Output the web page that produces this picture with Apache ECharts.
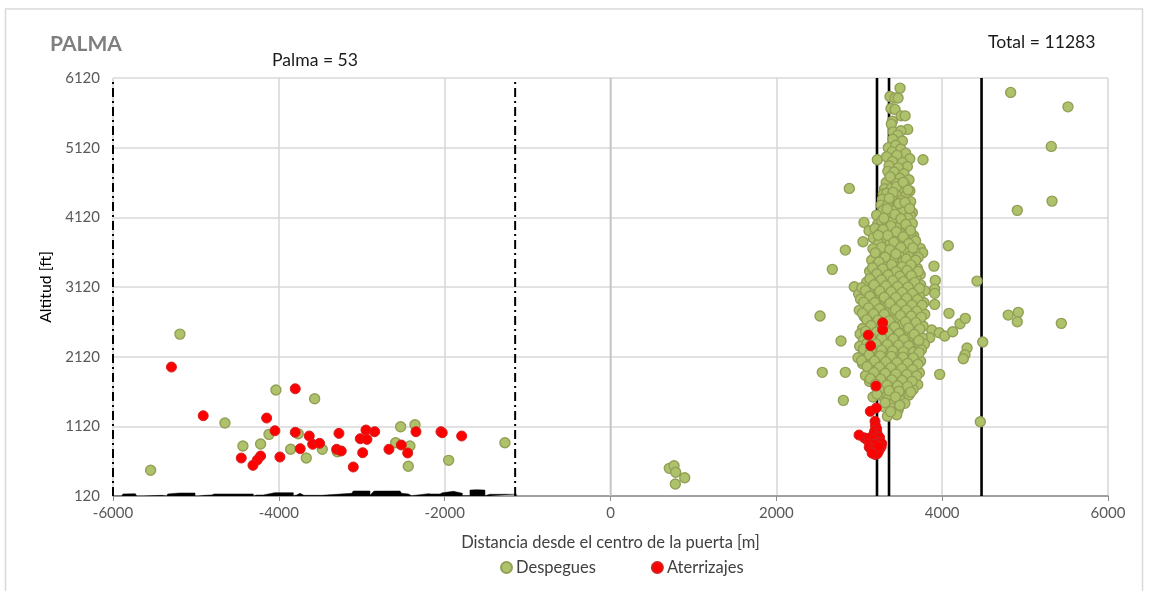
<!DOCTYPE html>
<html><head><meta charset="utf-8">
<style>html,body{margin:0;padding:0;background:#fff}#c{width:1151px;height:591px}</style>
<script src="https://cdn.jsdelivr.net/npm/echarts@6/dist/echarts.min.js"></script>
</head><body><div id="c"></div>
<script>
const chartTitle = 'PALMA';
const totalLabel = 'Total = 11283';
const palmaLabel = 'Palma = 53';
const xAxisName = 'Distancia desde el centro de la puerta [m]';
const yAxisName = 'Altitud [ft]';
const yTicks = [120,1120,2120,3120,4120,5120,6120];
const dashedLimits = [-6000,-1150];
const solidLimits = [3214,3359,4475];
const doorCentre = [0];

const departuresLeft = [[-5193,2444],[-5546,489],[-4035,1641],[-3568,1516],[-4650,1167],[-4433,837],[-4220,866],[-4119,1005],[-3766,1014],[-3858,790],[-3669,665],[-3476,790],[-3295,756],[-2531,1114],[-2358,1143],[-2591,885],[-2419,837],[-2439,546],[-1952,632],[-1273,885]];
const departuresCentre = [[709,517],[766,555],[786,460],[895,383],[782,292]];
const departuresOutliers = [[4826,5913],[5517,5706],[5316,5138],[5325,4353],[4906,4220],[4074,3712],[3769,4946],[3218,4946],[2880,4535],[3057,4047],[3118,3927],[3045,3769],[2832,3650],[2675,3373],[3901,3420],[3917,3215],[4420,3205],[3910,3090],[3736,3675],[3765,3611],[2940,3123],[2993,3019],[2527,2703],[2780,2344],[2554,1895],[2832,1895],[2808,1493],[3970,1866],[4460,1186],[4489,2330],[4082,2742],[3910,2871],[4215,2592],[4279,2670],[3874,2502],[3966,2463],[4031,2416],[4127,2478],[3850,2392],[4300,2244],[4275,2148],[4255,2090],[4797,2717],[4918,2756],[4906,2621],[5437,2598],[3910,3029]];
const departuresCloudTop = [[3492,5975],[3371,5855],[3430,5832],[3468,5832],[3383,5683],[3432,5669],[3505,5577],[3553,5577],[3400,5500],[3387,5458],[3584,5382],[3410,5347],[3502,5362],[3464,5300],[3405,5240],[3520,5215],[3350,5120],[3440,5155],[3500,5100],[3395,5060],[3560,5040],[3330,4990],[3455,5010],[3610,4960],[3400,4920],[3520,4905],[3360,4860],[3580,4850],[3470,4830],[3345,4780],[3420,4770],[3540,4745],[3375,4690],[3490,4680],[3600,4660],[3325,4620],[3440,4605],[3555,4585],[3305,4530],[3390,4540],[3505,4520],[3610,4500],[3290,4455],[3330,4465],[3450,4440],[3560,4430],[3280,4380],[3400,4370],[3510,4360],[3620,4345],[3265,4295],[3345,4300],[3460,4280],[3575,4270],[3290,4225],[3410,4215],[3525,4200],[3640,4190]];
const departuresCloudUpper = [[3210,4152],[3223,4023],[3616,4148],[3657,3855],[3350,4140],[3470,4125],[3585,4110],[3270,4070],[3395,4060],[3520,4045],[3640,4030],[3190,3960],[3325,3985],[3450,3970],[3570,3955],[3255,3900],[3380,3895],[3505,3880],[3625,3870],[3170,3825],[3310,3815],[3440,3805],[3560,3790],[3680,3780],[3235,3745],[3370,3735],[3490,3720],[3615,3710],[3165,3670],[3295,3665],[3425,3650],[3545,3640],[3670,3625],[3220,3590],[3350,3580],[3480,3570],[3600,3555],[3710,3545],[3150,3505],[3280,3510],[3410,3495],[3530,3485],[3655,3470],[3205,3430],[3335,3425],[3460,3410],[3585,3400],[3700,3390],[3125,3345],[3260,3350],[3390,3335],[3515,3325],[3635,3315],[3735,3300],[3180,3270],[3315,3265],[3445,3250],[3565,3240],[3685,3230],[3090,3190],[3235,3195],[3370,3180],[3495,3170],[3615,3160],[3740,3150],[3030,3110],[3160,3115],[3295,3105],[3425,3095],[3550,3085],[3670,3075],[3790,3065]];
const departuresCloudLower = [[3085,3030],[3220,3025],[3350,3015],[3480,3005],[3605,2995],[3725,2985],[3015,2945],[3150,2950],[3285,2935],[3415,2925],[3540,2915],[3665,2905],[3780,2895],[3075,2860],[3210,2855],[3345,2845],[3475,2835],[3600,2825],[3725,2815],[3000,2785],[3135,2780],[3270,2770],[3405,2760],[3530,2750],[3655,2740],[3790,2730],[3060,2695],[3195,2690],[3330,2680],[3460,2670],[3590,2660],[3715,2650],[3115,2610],[3250,2600],[3390,2590],[3520,2580],[3645,2570],[3770,2560],[3040,2525],[3175,2520],[3315,2510],[3445,2500],[3575,2490],[3700,2480],[3010,2445],[3105,2440],[3240,2430],[3375,2420],[3505,2410],[3630,2400],[3760,2390],[3050,2355],[3170,2350],[3305,2340],[3435,2330],[3565,2320],[3690,2310],[3785,2300],[3005,2270],[3110,2265],[3235,2260],[3370,2250],[3500,2240],[3625,2230],[3750,2220],[3060,2185],[3165,2180],[3300,2170],[3430,2160],[3560,2150],[3685,2140],[2985,2105],[3090,2100],[3220,2095],[3355,2085],[3490,2075],[3620,2065],[3740,2055],[3040,2020],[3150,2015],[3285,2005],[3420,1995],[3550,1985],[3680,1975],[3110,1935],[3210,1930],[3345,1920],[3475,1910],[3605,1900],[3725,1890],[3075,1850],[3165,1845],[3290,1835],[3420,1825],[3545,1815],[3665,1805],[3125,1765],[3240,1760],[3365,1750],[3490,1740],[3610,1730],[3705,1720],[3205,1680],[3320,1675],[3452,1689],[3560,1660],[3650,1650],[3270,1600],[3390,1595],[3505,1585],[3600,1570],[3166,1541],[3278,1555],[3340,1510],[3507,1487],[3420,1470],[3550,1450],[3403,1378],[3300,1400],[3470,1360],[3339,1264],[3452,1287]];
const departuresCloudOverlay = [[3372,4702],[3448,4561],[3531,4623],[3407,4478],[3362,4395],[3588,4512],[3478,4318],[3336,4241],[3552,4337],[3431,4162],[3296,4108],[3608,4246],[3503,4098],[3382,3998],[3562,4021],[3287,3946],[3447,3914],[3618,3931],[3531,3842],[3343,3861],[3228,3862],[3418,3763],[3596,3744],[3269,3689],[3501,3687],[3369,3654],[3646,3682],[3193,3612],[3442,3598],[3567,3521],[3312,3548],[3681,3503],[3238,3477],[3391,3441],[3518,3409],[3622,3438],[3159,3396],[3283,3382],[3443,3342],[3577,3356],[3712,3344],[3211,3311],[3347,3293],[3489,3274],[3628,3283],[3127,3238],[3266,3223],[3404,3211],[3533,3197],[3671,3186],[3179,3152],[3321,3139],[3462,3127],[3588,3118],[3728,3103],[3076,3068],[3247,3061],[3384,3052],[3519,3043],[3642,3027],[3128,2987],[3301,2973],[3441,2968],[3572,2957],[3703,2941],[3053,2902],[3188,2898],[3369,2887],[3508,2873],[3636,2861],[3758,2858],[3112,2821],[3246,2808],[3437,2795],[3567,2788],[3694,2773],[3038,2743],[3173,2736],[3302,2727],[3496,2712],[3626,2703],[3748,2688],[3091,2652],[3226,2645],[3362,2634],[3558,2622],[3682,2608],[3144,2568],[3283,2557],[3427,2546],[3596,2533],[3731,2519],[3078,2483],[3207,2473],[3346,2464],[3481,2452],[3662,2441],[3136,2397],[3272,2386],[3411,2378],[3538,2366],[3718,2352],[3094,2312],[3203,2303],[3338,2294],[3474,2285],[3596,2275],[3052,2228],[3142,2222],[3269,2214],[3402,2203],[3534,2193],[3654,2186],[3722,2178],[3117,2143],[3254,2132],[3387,2124],[3527,2113],[3652,2102],[3028,2065],[3183,2058],[3319,2048],[3456,2037],[3584,2026],[3708,2012],[3094,1979],[3243,1969],[3381,1959],[3512,1949],[3643,1936],[3178,1893],[3312,1882],[3443,1871],[3574,1863],[3692,1846],[3133,1807],[3259,1797],[3393,1787],[3518,1778],[3638,1767],[3197,1723],[3335,1713],[3462,1703],[3583,1693],[3241,1642],[3361,1632],[3479,1623],[3621,1611],[3213,1583],[3436,1543],[3311,1458],[3488,1421],[3377,1331]];

const arrivalsLeft = [[-5295,1971],[-4912,1272],[-3802,1659],[-4147,1239],[-4047,1057],[-3802,1034],[-3633,981],[-3275,1019],[-2949,1067],[-2844,1043],[-3018,942],[-2937,933],[-2346,1043],[-2045,1043],[-2029,1028],[-1795,981],[-3592,862],[-3508,876],[-3742,799],[-3303,790],[-3247,766],[-2989,741],[-2672,790],[-2523,852],[-2446,737],[-4453,665],[-4220,694],[-4260,636],[-4312,560],[-3987,680],[-3102,536]];
const arrivalsRight = [[3282,2607],[3282,2506],[3109,2430],[3138,2277],[3202,1699],[3133,1335],[3205,1383],[3190,1192],[3195,1130],[3210,1085],[3185,1050],[3215,1020],[3175,1005],[3220,975],[3245,960],[2997,995],[3060,955],[3095,925],[3120,950],[3150,905],[3180,930],[3215,900],[3250,890],[3270,875],[3130,870],[3160,850],[3195,860],[3265,830],[3120,820],[3150,790],[3185,800],[3220,790],[3250,800],[3170,760],[3200,745],[3230,755],[3190,715],[3215,725],[3155,735],[3235,830]];

const groundProfile = [[-6000,120],[-5895,120],[-5880,150],[-5730,153],[-5715,120],[-5634,120],[-5634,130],[-5413,130],[-5413,120],[-5353,120],[-5340,150],[-5200,163],[-5011,163],[-5011,120],[-4971,120],[-4950,140],[-4890,130],[-4810,135],[-4780,149],[-4308,149],[-4308,120],[-4267,134],[-4187,134],[-4167,155],[-4050,168],[-3825,168],[-3825,125],[-3785,135],[-3745,158],[-3697,130],[-3664,130],[-3483,130],[-3463,150],[-3122,158],[-3102,192],[-2901,192],[-2901,130],[-2852,190],[-2539,192],[-2519,158],[-2438,150],[-2400,125],[-2378,153],[-2197,153],[-2190,125],[-2157,149],[-2056,149],[-2028,165],[-1895,187],[-1787,160],[-1787,125],[-1695,125],[-1695,205],[-1610,211],[-1514,205],[-1514,125],[-1453,145],[-1132,145],[-1132,120]];

const vLine = (x, style, z) => ({
  type: 'line', data: [[x,120],[x,6120]], showSymbol: false, silent: true,
  lineStyle: style, z: z, animation: false
});
const chart = echarts.init(document.getElementById('c'), null, {renderer:'canvas'});
const font = 'Lato';
const green = {color:'#aec26c', borderColor:'#939f56', borderWidth:1.4, opacity:1};
const red = {color:'#ff0000', borderColor:'#d42020', borderWidth:1, opacity:1};
const plain = v => String(v);
chart.setOption({
  animation:false,
  textStyle:{fontFamily:font},
  grid:{left:113,right:43,top:78,bottom:95,containLabel:false},
  xAxis:{type:'value',min:-6000,max:6000,interval:2000,
    axisLine:{onZero:false,lineStyle:{color:'#8c8c8c',width:1.5}},
    axisTick:{show:true,length:5,inside:false,lineStyle:{color:'#8c8c8c'}},
    axisLabel:{color:'#595959',fontSize:15,margin:10,fontFamily:font,formatter:plain},
    splitLine:{show:true,lineStyle:{color:'#d9d9d9',width:1.6}},
    name:xAxisName,nameLocation:'middle',nameGap:38,
    nameTextStyle:{color:'#404040',fontSize:16.5,fontFamily:font}},
  yAxis:{type:'value',min:120,max:6120,
    axisLine:{show:false},
    axisTick:{show:false,customValues:yTicks},
    axisLabel:{color:'#595959',fontSize:15,margin:13,fontFamily:font,customValues:yTicks,formatter:plain},
    splitLine:{show:true,lineStyle:{color:'#d9d9d9',width:1.6}},
    name:yAxisName,nameLocation:'middle',nameGap:55,
    nameTextStyle:{color:'#000000',fontSize:15.8,fontFamily:font}},
  legend:{left:495,top:554,itemGap:55,itemWidth:11,itemHeight:11,
    data:[{name:'Despegues',icon:'circle'},{name:'Aterrizajes',icon:'circle'}],
    textStyle:{color:'#404040',fontSize:16.5,fontFamily:font,padding:[0,0,0,-1]}},
  graphic:[
    {type:'rect',shape:{x:5.5,y:9,width:1137,height:590},style:{fill:null,stroke:'#d9d9d9',lineWidth:1.5},z:-1,silent:true},
    {type:'text',left:50,top:34,style:{text:chartTitle,fill:'#7f7f7f',font:'bold 21px '+font}},
    {type:'text',left:988,top:33,style:{text:totalLabel,fill:'#1a1a1a',font:'17.6px '+font}},
    {type:'text',left:272,top:51,style:{text:palmaLabel,fill:'#1a1a1a',font:'17.6px '+font}}
  ],
  series:[
    ...dashedLimits.map(x=>vLine(x,{color:'#000',width:2,type:[9,4,2,4]},3)),
    ...solidLimits.map(x=>vLine(x,{color:'#000',width:2.6,type:'solid'},3)),
    ...doorCentre.map(x=>vLine(x,{color:'#c4c4c4',width:1.7,type:'solid'},1)),
    {type:'line',data:groundProfile,showSymbol:false,silent:true,z:3,
      lineStyle:{color:'#000',width:0.5},areaStyle:{color:'#000',opacity:1,origin:'start'}},
    {name:'Despegues',type:'scatter',symbolSize:10,z:5,itemStyle:green,
      data:[...departuresLeft,...departuresCentre,...departuresOutliers,...departuresCloudTop,...departuresCloudUpper,...departuresCloudLower,...departuresCloudOverlay]},
    {name:'Aterrizajes',type:'scatter',symbolSize:10,z:6,itemStyle:red,
      data:[...arrivalsLeft,...arrivalsRight]}
  ]
});
</script></body></html>
